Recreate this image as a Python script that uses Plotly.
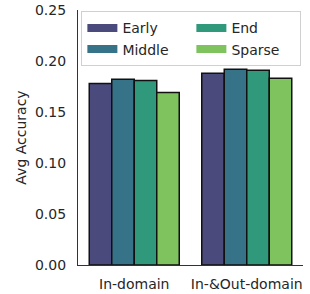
import plotly.graph_objects as go

categories = ["In-domain", "In-&Out-domain"]
series_names = ["Early", "Middle", "End", "Sparse"]
early = [0.178, 0.188]
middle = [0.182, 0.192]
end = [0.181, 0.191]
sparse = [0.169, 0.183]
y_ticks = [0.0, 0.05, 0.10, 0.15, 0.20, 0.25]

series_values = [early, middle, end, sparse]
colors = ["#4a4a7d", "#367389", "#31997b", "#7fc35f"]
ranks = [1, 3, 2, 4]

fig = go.Figure()
for name, vals, col in zip(series_names, series_values, colors):
    fig.add_trace(go.Bar(
        x=[0, 1], y=vals, name=name, showlegend=False,
        marker=dict(color=col, line=dict(color="#111111", width=1.5)),
    ))
for name, col, rk in zip(series_names, colors, ranks):
    fig.add_trace(go.Scatter(
        x=[None], y=[None], mode="lines", name=name, legendrank=rk,
        line=dict(color=col, width=8),
    ))

font = dict(family="DejaVu Sans", size=14, color="#262626")
fig.update_layout(
    width=310, height=294,
    margin=dict(l=78, r=7, t=10, b=29),
    paper_bgcolor="white", plot_bgcolor="white",
    font=font,
    barmode="group", bargap=0.2, bargroupgap=0,
    showlegend=True,
    legend=dict(
        orientation="h", x=0.015, y=0.995, xanchor="left", yanchor="top",
        entrywidth=64, entrywidthmode="pixels",
        bgcolor="rgba(255,255,255,0.8)", bordercolor="#d0d0d0", borderwidth=1,
        font=font, tracegroupgap=0,
    ),
    xaxis=dict(
        range=[-0.5, 1.5], tickmode="array", tickvals=[0, 1], ticktext=categories,
        showline=True, linecolor="#333333", linewidth=1.2, showgrid=False,
        zeroline=False, ticks="", ticklabelstandoff=6, automargin=False,
    ),
    yaxis=dict(
        range=[0, 0.25], tickmode="array", tickvals=y_ticks,
        ticktext=[f"{v:.2f}" for v in y_ticks],
        showline=True, linecolor="#333333", linewidth=1.2, showgrid=False,
        zeroline=False, ticks="", ticklabelstandoff=8, automargin=False,
        title=dict(text="Avg Accuracy", font=font, standoff=5),
    ),
)
fig.write_html("out.html", config={"displayModeBar": False},
               post_script="document.body.style.margin='0';")
